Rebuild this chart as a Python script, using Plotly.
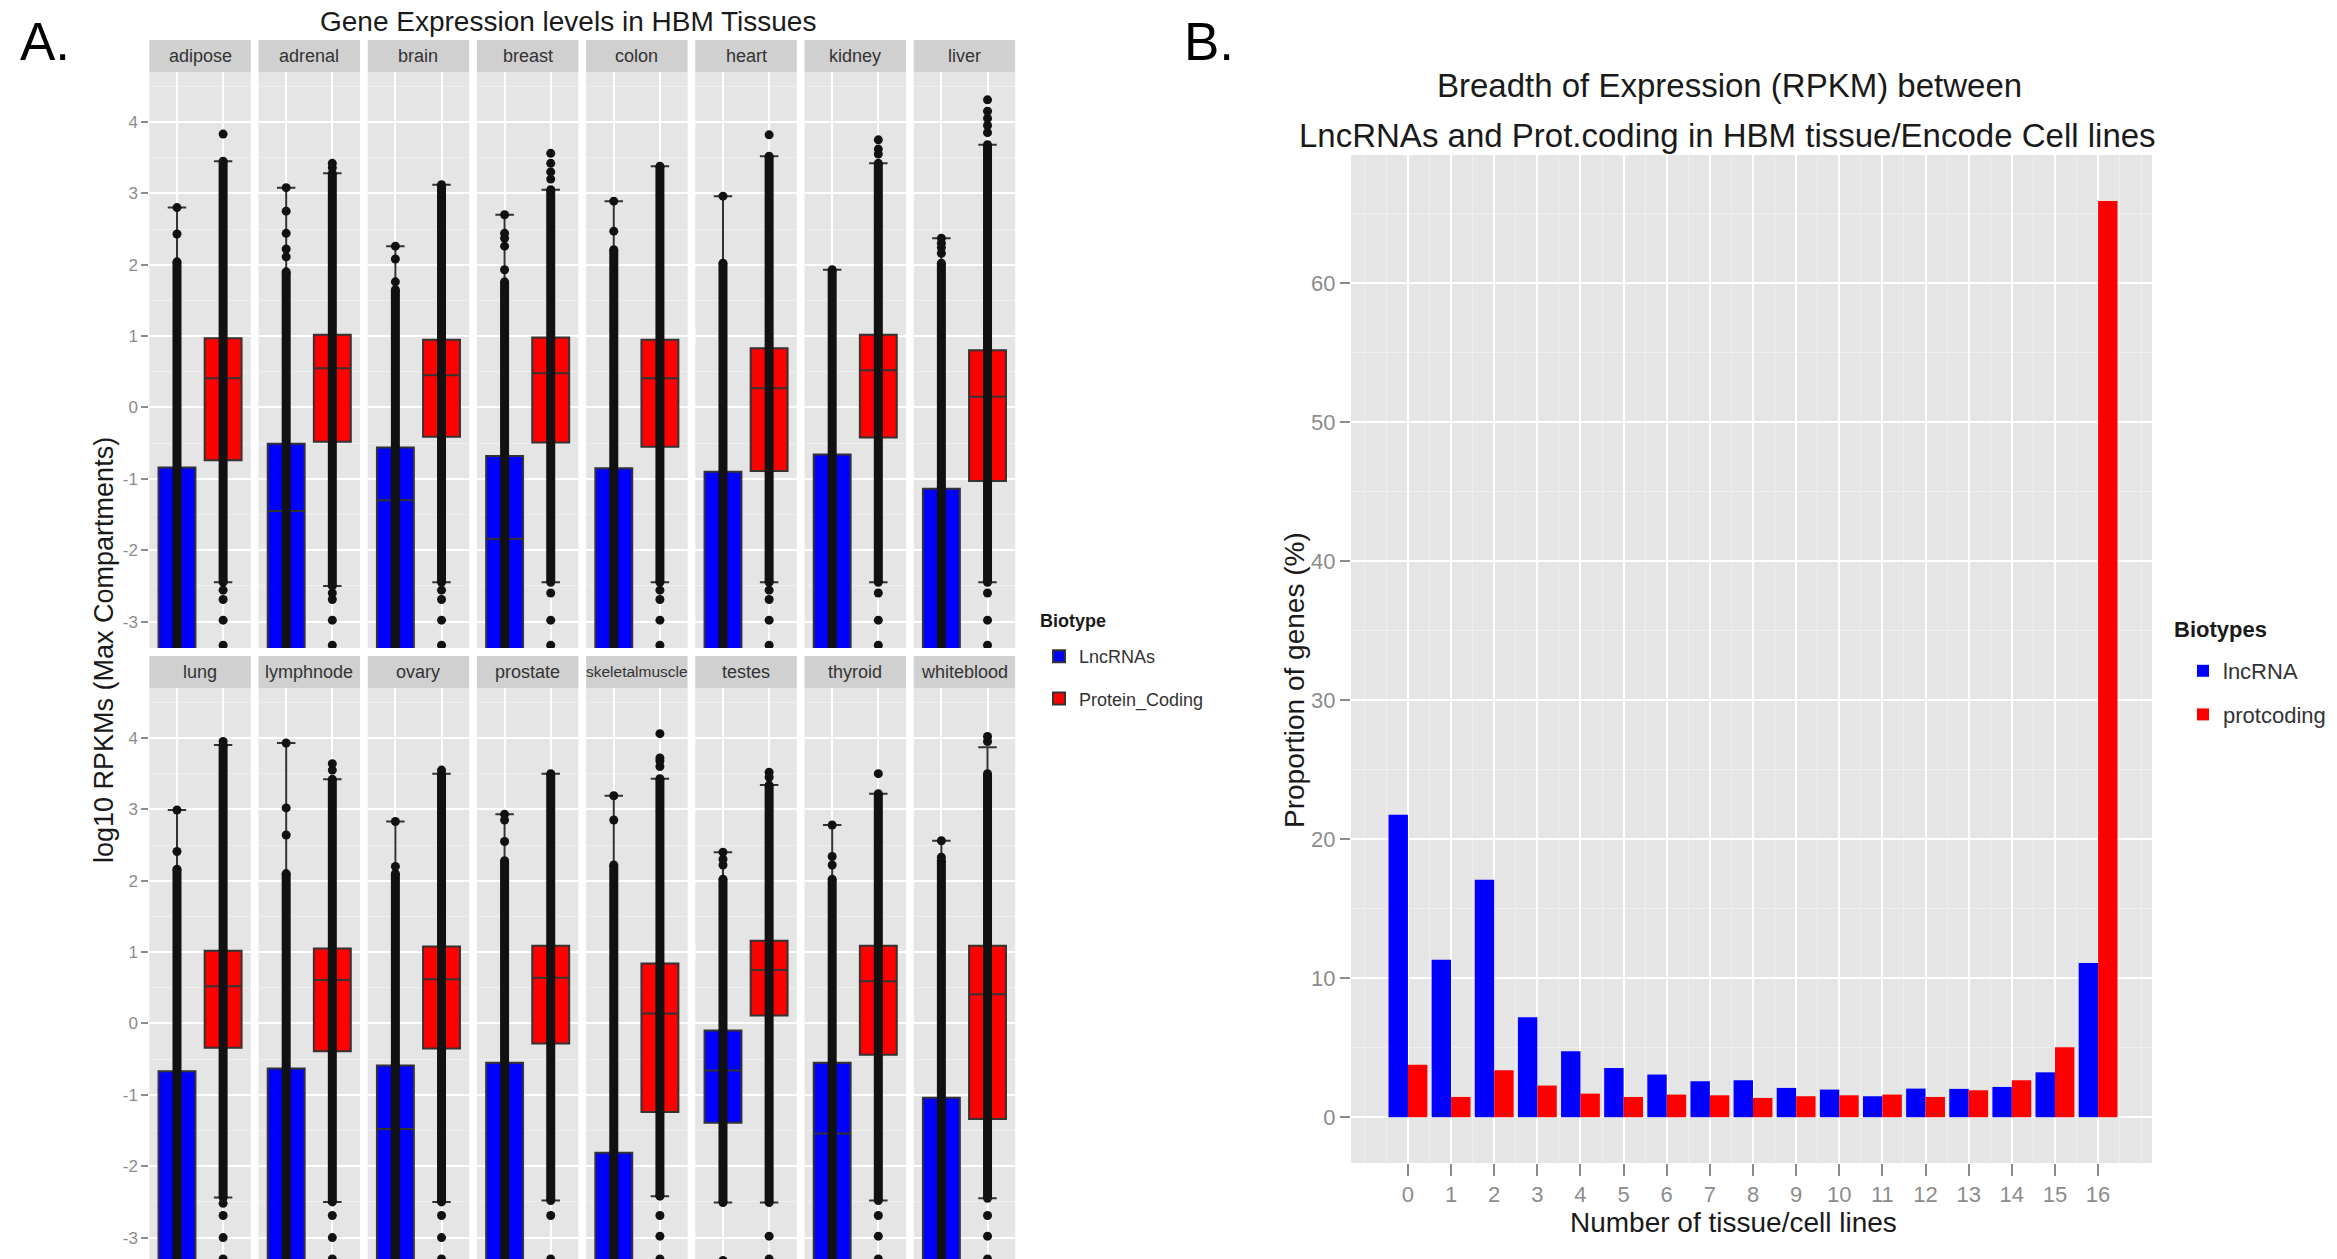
import plotly.graph_objects as go

W, H = 2337, 1259

SANS = "Liberation Sans, Arial, Helvetica, sans-serif"

BLUE = "#0000FF"
RED = "#FF0000"
PANEL = "#E5E5E5"
STRIP = "#D0D0D0"
TICKGREY = "#8C8C8C"
INK = "#1A1A1A"
DOT = "#111111"

# ---------------- Panel A: log10 RPKM per tissue ----------------
tissues = ["adipose", "adrenal", "brain", "breast", "colon", "heart", "kidney", "liver",
           "lung", "lymphnode", "ovary", "prostate", "skeletalmuscle", "testes", "thyroid", "whiteblood"]

# LncRNAs
lnc_q1 = [-4.5, -4.5, -4.5, -4.5, -4.5, -4.5, -4.5, -4.5,
          -4.5, -4.5, -4.5, -4.5, -4.5, -1.39, -4.5, -4.5]
lnc_median = [-3.6, -1.45, -1.30, -1.84, -3.6, -3.6, -3.6, -3.6,
              -3.6, -3.6, -1.48, -3.6, -3.6, -0.66, -1.54, -3.6]
lnc_q3 = [-0.84, -0.51, -0.56, -0.68, -0.85, -0.90, -0.66, -1.14,
          -0.67, -0.63, -0.59, -0.55, -1.81, -0.10, -0.55, -1.04]
lnc_lower = [-5.0, -5.0, -5.0, -5.0, -5.0, -5.0, -5.0, -5.0,
             -5.0, -5.0, -5.0, -5.0, -5.0, -2.51, -5.0, -5.0]
lnc_upper = [2.80, 3.08, 2.26, 2.70, 2.89, 2.96, 1.93, 2.37,
             2.99, 3.93, 2.83, 2.93, 3.19, 2.40, 2.78, 2.56]
lnc_dense_lo = [-5.0, -5.0, -5.0, -5.0, -5.0, -5.0, -5.0, -5.0,
                -5.0, -5.0, -5.0, -5.0, -5.0, -2.51, -5.0, -5.0]
lnc_dense_hi = [2.04, 1.90, 1.65, 1.76, 2.21, 2.02, 1.93, 2.02,
                2.16, 2.10, 2.10, 2.28, 2.22, 2.02, 2.02, 2.28]
lnc_points = [
    [2.43, 2.80], [2.11, 2.22, 2.44, 2.75, 3.08], [1.76, 2.08, 2.26], [1.93, 2.26, 2.37, 2.44, 2.70],
    [2.47, 2.89], [2.96], [], [2.16, 2.24, 2.30, 2.37],
    [2.41, 2.99], [2.64, 3.02, 3.93], [2.20, 2.83], [2.55, 2.85, 2.93],
    [2.85, 3.19], [2.22, 2.30, 2.40, -3.32], [2.22, 2.34, 2.78], [2.33, 2.56],
]

# Protein coding
pc_q1 = [-0.74, -0.48, -0.41, -0.49, -0.55, -0.89, -0.42, -1.03,
         -0.34, -0.39, -0.35, -0.28, -1.24, 0.11, -0.44, -1.34]
pc_median = [0.41, 0.55, 0.45, 0.48, 0.41, 0.27, 0.52, 0.15,
             0.52, 0.61, 0.62, 0.64, 0.14, 0.75, 0.59, 0.41]
pc_q3 = [0.97, 1.02, 0.95, 0.98, 0.95, 0.83, 1.02, 0.80,
         1.02, 1.05, 1.08, 1.09, 0.84, 1.16, 1.09, 1.09]
pc_lower = [-2.45, -2.50, -2.45, -2.45, -2.45, -2.45, -2.45, -2.45,
            -2.44, -2.50, -2.50, -2.48, -2.42, -2.51, -2.48, -2.45]
pc_upper = [3.45, 3.28, 3.12, 3.05, 3.38, 3.52, 3.42, 3.68,
            3.90, 3.42, 3.50, 3.50, 3.43, 3.34, 3.22, 3.87]
pc_dense_hi = [3.45, 3.28, 3.12, 3.05, 3.38, 3.52, 3.42, 3.68,
               3.90, 3.42, 3.50, 3.50, 3.43, 3.34, 3.22, 3.50]
pc_points = [
    [3.83, -2.56, -2.69, -2.98, -3.33], [3.36, 3.42, -2.6, -2.69, -2.98, -3.33],
    [-2.56, -2.69, -2.98, -3.33], [3.20, 3.30, 3.42, 3.56, -2.6, -2.98, -3.33],
    [-2.56, -2.69, -2.98, -3.33], [3.82, -2.56, -2.69, -2.98, -3.33],
    [3.55, 3.62, 3.75, -2.6, -2.98, -3.33], [3.85, 3.95, 4.05, 4.15, 4.31, -2.6, -2.98, -3.33],
    [3.95, -2.52, -2.69, -3.00, -3.30], [3.55, 3.64, -2.69, -3.00, -3.30],
    [3.55, -2.69, -3.00, -3.30], [-2.69, -3.30],
    [3.60, 3.68, 3.72, 4.06, -2.69, -2.98, -3.30], [3.45, 3.52, -2.98, -3.30],
    [3.50, -2.69, -2.98, -3.30], [3.95, 4.02, -2.69, -2.98, -3.30],
]

# ---------------- Panel B: breadth of expression ----------------
n_tissues = list(range(17))
lnc_pct = [21.75, 11.33, 17.08, 7.19, 4.74, 3.54, 3.07, 2.59, 2.66,
           2.11, 1.99, 1.51, 2.06, 2.04, 2.18, 3.23, 11.09]
pc_pct = [3.78, 1.46, 3.38, 2.28, 1.70, 1.46, 1.63, 1.58, 1.39,
          1.51, 1.58, 1.63, 1.46, 1.94, 2.66, 5.03, 65.9]

fig = go.Figure()
axes = {}
shapes = []
annotations = []


def ann(text, x, y, size, color=INK, angle=0, xanchor="center", yanchor="middle"):
    annotations.append(dict(text=text, x=x / W, y=1 - y / H, xref="paper", yref="paper",
                            showarrow=False, textangle=angle, xanchor=xanchor, yanchor=yanchor,
                            font=dict(family=SANS, size=size, color=color)))


COL0, PITCH, PW = 149.3, 109.2, 101.5
ROWS = [(72, 648, [-3.37, 4.70]), (688, 1259, [-3.30, 4.70])]
STRIPS = [(40, 72), (656, 688)]

for i, tissue in enumerate(tissues):
    row, col = divmod(i, 8)
    n = i + 1
    xa = "x" if n == 1 else f"x{n}"
    ya = "y" if n == 1 else f"y{n}"
    left = COL0 + col * PITCH
    right = left + PW
    top, bottom, yr = ROWS[row]

    axes["xaxis" if n == 1 else f"xaxis{n}"] = dict(
        domain=[left / W, right / W], range=[-0.6, 1.6], anchor=ya,
        tickvals=[0, 1], showticklabels=False, ticks="",
        showgrid=True, gridcolor="white", gridwidth=2,
        zeroline=False, showline=False, fixedrange=True)
    axes["yaxis" if n == 1 else f"yaxis{n}"] = dict(
        domain=[1 - bottom / H, 1 - top / H], range=yr, anchor=xa,
        tickvals=list(range(-3, 5)), ticktext=[str(v) for v in range(-3, 5)],
        showticklabels=(col == 0), ticks="outside" if col == 0 else "",
        ticklen=7, tickwidth=2, tickcolor=TICKGREY,
        tickfont=dict(family=SANS, size=17, color=TICKGREY),
        showgrid=True, gridcolor="white", gridwidth=2,
        minor=dict(tickvals=[v + 0.5 for v in range(-4, 5)], showgrid=True,
                   gridcolor="#EFEFEF", gridwidth=1),
        zeroline=False, showline=False, fixedrange=True)

    # facet strip
    s_top, s_bot = STRIPS[row]
    shapes.append(dict(type="rect", xref="paper", yref="paper",
                       x0=left / W, x1=right / W, y0=1 - s_bot / H, y1=1 - s_top / H,
                       fillcolor=STRIP, line=dict(width=0), layer="below"))
    ann(tissue, (left + right) / 2, (s_top + s_bot) / 2,
        15.5 if len(tissue) > 11 else 18, color="#333333")

    groups = [
        (0, BLUE, "lncA", "LncRNAs", lnc_q1[i], lnc_median[i], lnc_q3[i], lnc_lower[i], lnc_upper[i],
         lnc_dense_lo[i], lnc_dense_hi[i], lnc_points[i]),
        (1, RED, "pcA", "Protein_Coding", pc_q1[i], pc_median[i], pc_q3[i], pc_lower[i], pc_upper[i],
         pc_lower[i], pc_dense_hi[i], pc_points[i]),
    ]
    for pos, color, grp, name, q1, med, q3, lo, hi, dlo, dhi, pts in groups:
        # dense run of overlapping points
        fig.add_trace(go.Scatter(x=[pos, pos], y=[dlo, dhi], mode="lines+markers",
                                 line=dict(color=DOT, width=9), marker=dict(color=DOT, size=9),
                                 xaxis=xa, yaxis=ya, showlegend=False, hoverinfo="skip",
                                 legendgroup=grp, legend="legend"))
        if pts:
            fig.add_trace(go.Scatter(x=[pos] * len(pts), y=pts, mode="markers",
                                     marker=dict(color=DOT, size=9),
                                     xaxis=xa, yaxis=ya, showlegend=False, hoverinfo="skip",
                                     legendgroup=grp, legend="legend"))
        fig.add_trace(go.Box(x=[pos], q1=[q1], median=[med], q3=[q3],
                             lowerfence=[lo], upperfence=[hi], width=0.8,
                             fillcolor=color, line=dict(color="#333333", width=2),
                             boxpoints=False, name=name, legendgroup=grp,
                             showlegend=(i == 0), legend="legend",
                             xaxis=xa, yaxis=ya))

# Panel B bars
fig.add_trace(go.Bar(x=n_tissues, y=lnc_pct, name="lncRNA", marker=dict(color=BLUE, line=dict(width=0)),
                     xaxis="x17", yaxis="y17", legend="legend2", legendgroup="lncB"))
fig.add_trace(go.Bar(x=n_tissues, y=pc_pct, name="protcoding", marker=dict(color=RED, line=dict(width=0)),
                     xaxis="x17", yaxis="y17", legend="legend2", legendgroup="pcB"))

BX0, BX1, BY0, BY1 = 1351, 2152, 155, 1163
axes["xaxis17"] = dict(
    domain=[BX0 / W, BX1 / W], range=[-1.32, 17.25], anchor="y17",
    tickvals=n_tissues, ticks="outside", ticklen=12, tickwidth=2, tickcolor=TICKGREY,
    tickfont=dict(family=SANS, size=22, color=TICKGREY),
    showgrid=True, gridcolor="white", gridwidth=2,
    minor=dict(tickvals=[-1] + [v + 0.5 for v in range(-1, 17)] + [17], showgrid=True,
               gridcolor="#EFEFEF", gridwidth=1),
    zeroline=False, showline=False, fixedrange=True)
axes["yaxis17"] = dict(
    domain=[1 - BY1 / H, 1 - BY0 / H], range=[-3.29, 69.2], anchor="x17",
    tickvals=list(range(0, 70, 10)), ticks="outside", ticklen=10, tickwidth=2, tickcolor=TICKGREY,
    tickfont=dict(family=SANS, size=22, color=TICKGREY),
    showgrid=True, gridcolor="white", gridwidth=2,
    minor=dict(tickvals=list(range(5, 70, 10)), showgrid=True, gridcolor="#EFEFEF", gridwidth=1),
    zeroline=False, showline=False, fixedrange=True)

# Text
ann("A.", 18, 41, 53, color="black", xanchor="left")
ann("B.", 1182, 41, 53, color="black", xanchor="left")
ann("Gene Expression levels in HBM Tissues", 568, 22, 28)
ann("log10 RPKMs (Max Compartments)", 104, 650, 27, angle=-90)
ann("Breadth of Expression (RPKM) between", 1729, 85, 33)
ann("LncRNAs and Prot.coding in HBM tissue/Encode Cell lines", 1727, 135, 33)
ann("Proportion of genes (%)", 1294, 680, 28, angle=-90)
ann("Number of tissue/cell lines", 1733, 1222, 28)
ann("<b>Biotype</b>", 1038, 621, 18, xanchor="left")
ann("<b>Biotypes</b>", 2172, 629, 22, xanchor="left")

fig.update_layout(
    width=W, height=H, autosize=False,
    margin=dict(l=0, r=0, t=0, b=0),
    paper_bgcolor="white", plot_bgcolor=PANEL,
    barmode="group", bargap=0.1, bargroupgap=0,
    shapes=shapes, annotations=annotations,
    legend=dict(x=1039 / W, y=1 - 638 / H, xanchor="left", yanchor="top",
                font=dict(family=SANS, size=18, color="#333333"),
                bgcolor="rgba(0,0,0,0)", tracegroupgap=16),
    legend2=dict(x=2183 / W, y=1 - 650 / H, xanchor="left", yanchor="top",
                 font=dict(family=SANS, size=22, color="#333333"),
                 bgcolor="rgba(0,0,0,0)", tracegroupgap=12),
    showlegend=True,
    **axes,
)

fig.write_html("out.html")
